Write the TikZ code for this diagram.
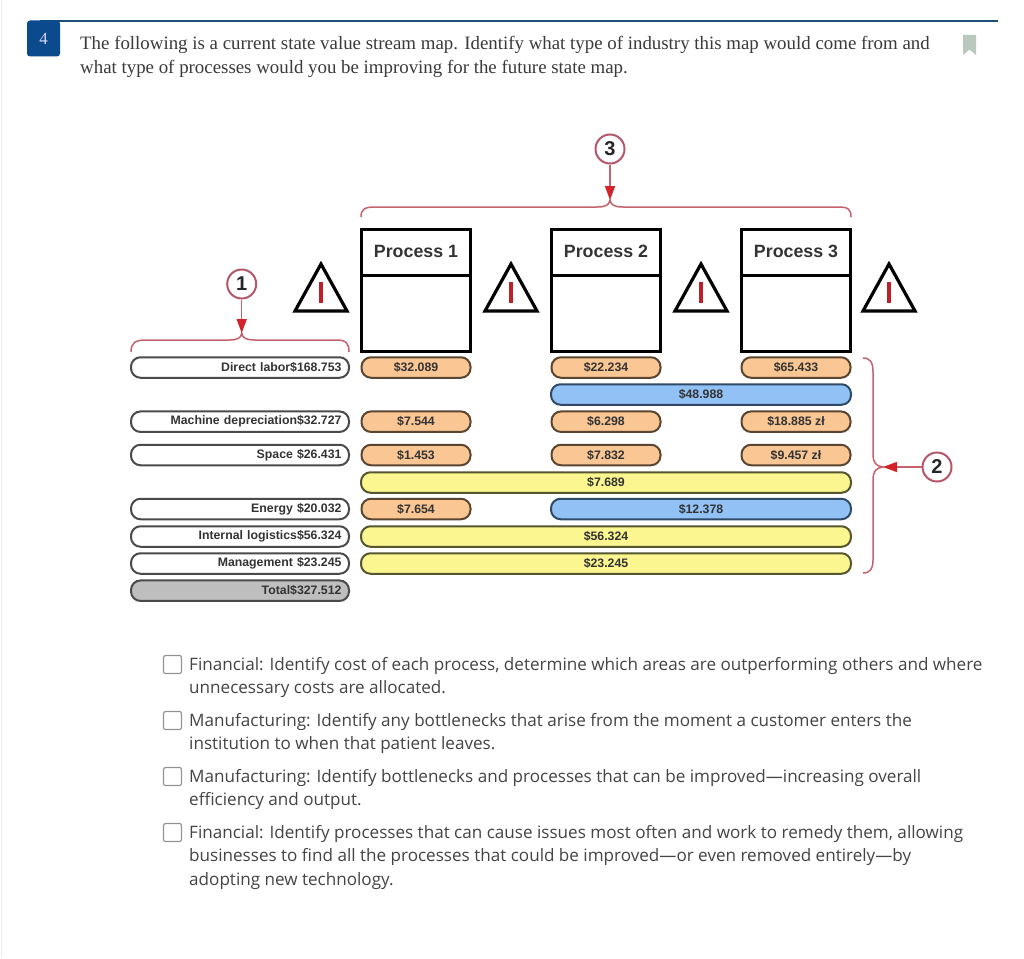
\documentclass[tikz,border=0pt]{standalone}
\usepackage{fontspec}
\setmainfont{Liberation Serif}
\newfontfamily\opensans{Open Sans}
\newfontfamily\arialf{Liberation Sans}
\usetikzlibrary{arrows.meta}
\definecolor{navy}{HTML}{0B4A8C}
\definecolor{rulecol}{HTML}{1F4E79}
\definecolor{bodyq}{HTML}{3A3A3A}
\definecolor{bodyo}{HTML}{444444}
\definecolor{bmk}{HTML}{BAC8BE}
\definecolor{braceC}{HTML}{C4626E}
\definecolor{arrC}{HTML}{D2232A}
\definecolor{circC}{HTML}{B5576A}
\definecolor{pillL}{HTML}{4A4A4A}
\definecolor{orangeF}{HTML}{F9C694}
\definecolor{orangeL}{HTML}{5A4630}
\definecolor{yellowF}{HTML}{FBF68F}
\definecolor{yellowL}{HTML}{55552F}
\definecolor{blueF}{HTML}{92C2F5}
\definecolor{blueL}{HTML}{2F4A66}
\definecolor{grayF}{HTML}{BEBEBE}
\tikzset{
  x=1pt,y=-1pt,
  pillbase/.style={draw,line width=2pt,rounded corners=9.5pt,minimum height=20.5pt,inner sep=0pt,text=black!80,font=\arialf\bfseries\fontsize{12.3}{13}\selectfont},
  lefty/.style={pillbase,draw=pillL,fill=white,text width=203pt,inner xsep=7.5pt,align=right},
  totalp/.style={lefty,fill=grayF},
  orng/.style={pillbase,draw=orangeL,fill=orangeF,minimum width=109pt},
  ylw/.style={pillbase,draw=yellowL,fill=yellowF,minimum width=490pt},
  blu/.style={pillbase,draw=blueL,fill=blueF,minimum width=300pt},
  vlabel/.style={inner sep=0pt,text=black!80,font=\arialf\bfseries\fontsize{12.3}{13}\selectfont},
  prochead/.style={draw=black,line width=3pt,outer sep=0pt,minimum width=109pt,minimum height=46pt,inner sep=0pt,text=black!80,font=\arialf\bfseries\fontsize{17.8}{20}\selectfont},
  procbody/.style={draw=black,line width=3pt,outer sep=0pt,minimum width=109pt,minimum height=76pt,inner sep=0pt},
  numc/.style={circle,draw=circC,line width=2pt,fill=white,minimum size=29pt,inner sep=0pt,text=black!85,font=\arialf\bfseries\fontsize{20}{22}\selectfont},
  bracep/.style={draw=braceC,line width=1.5pt},
  redarr/.style={draw=braceC,line width=1.5pt,-{Triangle[length=14pt,width=10pt,color=arrC]}},
  warn/.style={draw=black,line width=3.2pt,line join=miter,fill=white},
  warnbar/.style={draw=arrC!90!black,line width=4.5pt},
  qtext/.style={inner sep=0pt,anchor=base west,align=left,text=bodyq,font=\fontsize{18.87}{24.5}\selectfont},
  otext/.style={inner sep=0pt,anchor=north west,align=left,text=bodyo,font=\opensans\fontsize{17.09}{23.4}\selectfont},
  chk/.style={draw=gray!85,line width=1.2pt,rounded corners=2pt,minimum size=18pt,inner sep=0pt,fill=white},
}
\begin{document}
\begin{tikzpicture}
\useasboundingbox (0,0) rectangle (1024,958);
\fill[white] (0,0) rectangle (1024,958);
\draw[black!7,line width=1pt] (1,0) -- (1,958);
% header
\draw[rulecol,line width=2pt] (40,21) -- (998,21);
\node[fill=navy,rounded corners=3pt,minimum width=33pt,minimum height=36pt,inner sep=0pt,text=white!85!blue,font=\fontsize{17}{20}\selectfont] (badge) at (43.5,38.5) {4};
\node[qtext] (question) at (80,74) {The following is a current state value stream map. Identify what type of industry this map would come from and\\what type of processes would you be improving for the future state map.};
\fill[bmk] (963,35) -- (976,35) -- (976,55) -- (969.5,49.5) -- (963,55) -- cycle;
% process boxes
\node[prochead,text depth=2pt] (h1) at (416,252) {Process 1};
\node[procbody,anchor=north] (b1) at (h1.south) {};
\node[prochead,text depth=2pt] (h2) at (606,252) {Process 2};
\node[procbody,anchor=north] (b2) at (h2.south) {};
\node[prochead,text depth=2pt] (h3) at (796,252) {Process 3};
\node[procbody,anchor=north] (b3) at (h3.south) {};
% warning triangles
\foreach \tx in {321,511,701,889}{
  \draw[warn] (\tx,264) -- (\tx+26,311) -- (\tx-26,311) -- cycle;
  \draw[warnbar] (\tx,282) -- (\tx,303);
}
% left column
\node[lefty] (dl) at (240,367.5) {Direct labor\$168.753};
\node[lefty] (md) at (240,421.7) {Machine depreciation\$32.727};
\node[lefty] (sp) at (240,455) {Space \$26.431};
\node[lefty] (en) at (240,509) {Energy \$20.032};
\node[lefty] (il) at (240,536.5) {Internal logistics\$56.324};
\node[lefty] (mg) at (240,563.5) {Management \$23.245};
\node[totalp] (tt) at (240,590.7) {Total\$327.512};
% process 1
\node[orng] (o11) at (416,367.5) {\$32.089};
\node[orng] (o12) at (416,421.7) {\$7.544};
\node[orng] (o13) at (416,455) {\$1.453};
\node[orng] (o14) at (416,509) {\$7.654};
% process 2
\node[orng] (o21) at (606,367.5) {\$22.234};
\node[orng] (o22) at (606,421.7) {\$6.298};
\node[orng] (o23) at (606,455) {\$7.832};
% process 3
\node[orng] (o31) at (796,367.5) {\$65.433};
\node[orng] (o32) at (796,421.7) {\$18.885 zł};
\node[orng] (o33) at (796,455) {\$9.457 zł};
% spanning bars
\node[blu] (bl1) at (701,394.5) {\$48.988};
\node[blu] (bl2) at (701,509) {\$12.378};
\node[ylw] (y1) at (606,482.5) {};
\node[vlabel] (y1t) at (606,482) {\$7.689};
\node[ylw] (y2) at (606,536.5) {};
\node[vlabel] (y2t) at (606,536) {\$56.324};
\node[ylw] (y3) at (606,563.5) {};
\node[vlabel] (y3t) at (606,563) {\$23.245};
% braces
\coordinate (t1) at (241.7,333);
\coordinate (t3) at (610,200);
\coordinate (t2) at (883,467);
\draw[bracep] (131,352) .. controls (131,343) and (135,340) .. (146,340) -- (229,340) .. controls (238,340) and (241,338) .. (t1) .. controls (242.5,338) and (246,340) .. (255,340) -- (336,340) .. controls (346,340) and (349,343) .. (349,352);
\draw[bracep] (361,217) .. controls (361,209) and (365,207) .. (375,207) -- (597,207) .. controls (606,207) and (609,205) .. (t3) .. controls (611,205) and (614,207) .. (623,207) -- (838,207) .. controls (848,207) and (851,209) .. (851,217);
\draw[bracep] (863,358) .. controls (870,358) and (873,362) .. (873,372) -- (873,454) .. controls (873,463) and (876,466) .. (t2) .. controls (876,468) and (873,471) .. (873,480) -- (873,560) .. controls (873,569) and (870,573) .. (863,573);
% numbered circles and arrows
\node[numc] (c1) at (241.7,284) {1};
\node[numc] (c3) at (610,149) {3};
\node[numc] (c2) at (937,467) {2};
\draw[redarr] (c1) -- (t1);
\draw[redarr] (c3) -- (t3);
\draw[redarr] (c2) -- (t2);
% answer options
\node[chk] (k1) at (172.5,664.5) {};
\node[otext] (a1) at (189,657) {Financial: Identify cost of each process, determine which areas are outperforming others and where\\unnecessary costs are allocated.};
\node[chk] (k2) at (172.5,720.5) {};
\node[otext] (a2) at (189,713) {Manufacturing: Identify any bottlenecks that arise from the moment a customer enters the\\institution to when that patient leaves.};
\node[chk] (k3) at (172.5,776.5) {};
\node[otext] (a3) at (189,769) {Manufacturing: Identify bottlenecks and processes that can be improved—increasing overall\\efficiency and output.};
\node[chk] (k4) at (172.5,832.5) {};
\node[otext] (a4) at (189,825) {Financial: Identify processes that can cause issues most often and work to remedy them, allowing\\businesses to find all the processes that could be improved—or even removed entirely—by\\adopting new technology.};
\end{tikzpicture}
\end{document}
